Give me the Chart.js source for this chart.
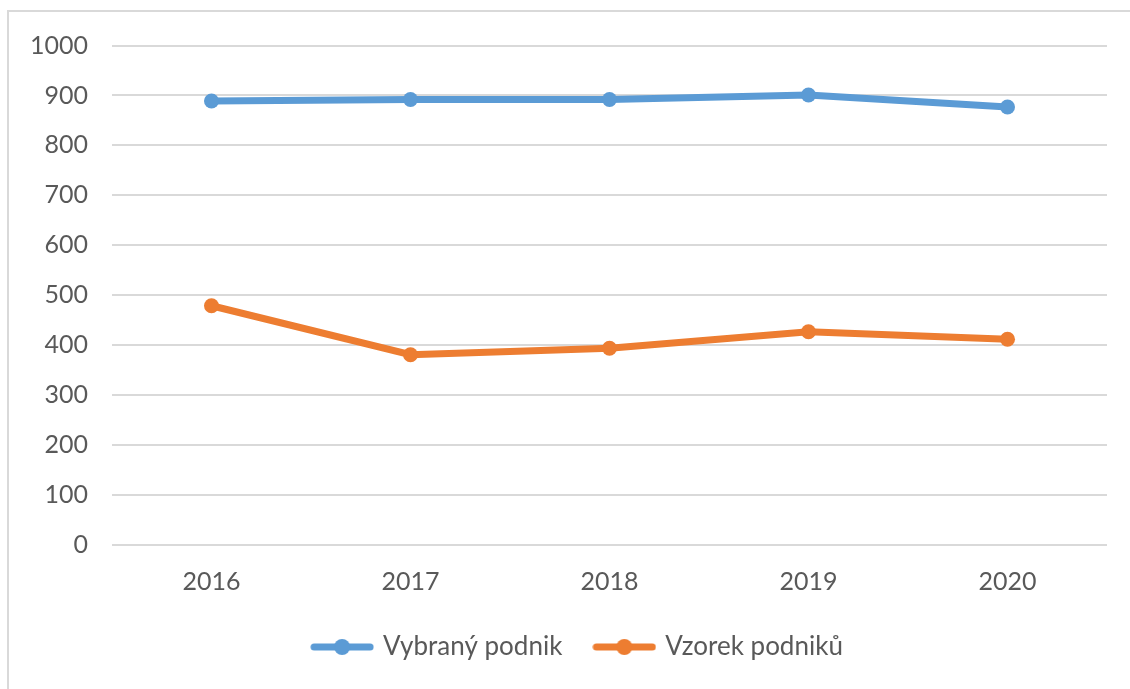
<!DOCTYPE html>
<html>
<head>
<meta charset="utf-8">
<script src="https://cdn.jsdelivr.net/npm/chart.js@4/dist/chart.umd.min.js"></script>
<style>
html,body{margin:0;padding:0;background:#fff;overflow:hidden;}
#frame{position:absolute;left:7px;top:10px;width:1200px;height:800px;border-left:2px solid #d9d9d9;border-top:2px solid #d9d9d9;}
#wrap{position:absolute;left:0;top:0;width:1130px;height:689px;}
</style>
</head>
<body>
<div id="frame"></div>
<div id="wrap"><canvas id="c"></canvas></div>
<script>
const categories = ['2016', '2017', '2018', '2019', '2020'];
const vybranyPodnik = [889, 892, 892, 901, 877];
const vzorekPodniku = [479, 381, 394, 427, 412];
const seriesNames = ['Vybraný podnik', 'Vzorek podniků'];
const yTicks = [0, 100, 200, 300, 400, 500, 600, 700, 800, 900, 1000];

const BLUE = '#5b9bd5', ORANGE = '#ed7d31';
const FONT = 'Lato, "Open Sans", sans-serif';

function legendMarker(color) {
  const cv = document.createElement('canvas');
  cv.width = 64; cv.height = 18;
  const g = cv.getContext('2d');
  g.strokeStyle = color; g.lineWidth = 7; g.lineCap = 'round';
  g.beginPath(); g.moveTo(4, 9); g.lineTo(60, 9); g.stroke();
  g.fillStyle = color;
  g.beginPath(); g.arc(32, 9, 8, 0, Math.PI * 2); g.fill();
  return cv;
}
const markers = [legendMarker(BLUE), legendMarker(ORANGE)];

const legendShift = {
  id: 'legendShift',
  afterLayout(chart) {
    if (chart.legend) { chart.legend.left += 13; chart.legend.right += 13; }
  }
};

new Chart(document.getElementById('c'), {
  type: 'line',
  data: {
    labels: categories,
    datasets: [
      { label: seriesNames[0], data: vybranyPodnik, borderColor: BLUE, backgroundColor: BLUE,
        borderWidth: 7, pointRadius: 7.5, pointHoverRadius: 7.5, pointBorderWidth: 0, tension: 0 },
      { label: seriesNames[1], data: vzorekPodniku, borderColor: ORANGE, backgroundColor: ORANGE,
        borderWidth: 7, pointRadius: 7.5, pointHoverRadius: 7.5, pointBorderWidth: 0, tension: 0 }
    ]
  },
  plugins: [legendShift],
  options: {
    responsive: true,
    maintainAspectRatio: false,
    animation: false,
    layout: { padding: { top: 45.5, left: 24, right: 23, bottom: 19 } },
    plugins: {
      tooltip: { enabled: false },
      legend: {
        position: 'bottom',
        labels: {
          usePointStyle: true,
          boxWidth: 56,
          boxHeight: 18,
          pointStyleWidth: 56,
          padding: 34,
          color: '#595959',
          font: { family: FONT, size: 26 },
          generateLabels(chart) {
            return chart.data.datasets.map((ds, i) => ({
              text: ds.label, pointStyle: markers[i], fillStyle: ds.borderColor,
              strokeStyle: ds.borderColor, lineWidth: 0, hidden: false, datasetIndex: i,
              fontColor: '#595959'
            }));
          }
        }
      }
    },
    scales: {
      x: {
        offset: true,
        grid: { display: false, drawTicks: false },
        border: { display: false },
        ticks: { color: '#595959', font: { family: FONT, size: 25 }, padding: 22, maxRotation: 0 },
        afterFit(s) { s.height = 55; s.paddingLeft = 0; s.paddingRight = 0; }
      },
      y: {
        min: 0, max: 1000,
        afterBuildTicks(s) { s.ticks = yTicks.map(v => ({ value: v })); },
        grid: { color: '#d9d9d9', lineWidth: 2, drawTicks: false },
        border: { display: false },
        ticks: { color: '#595959', font: { family: FONT, size: 25 }, padding: 24,
                 callback: (v) => String(v) },
        afterFit(s) { s.width = 88; s.paddingTop = 0; s.paddingBottom = 0; }
      }
    }
  }
});
</script>
</body>
</html>
